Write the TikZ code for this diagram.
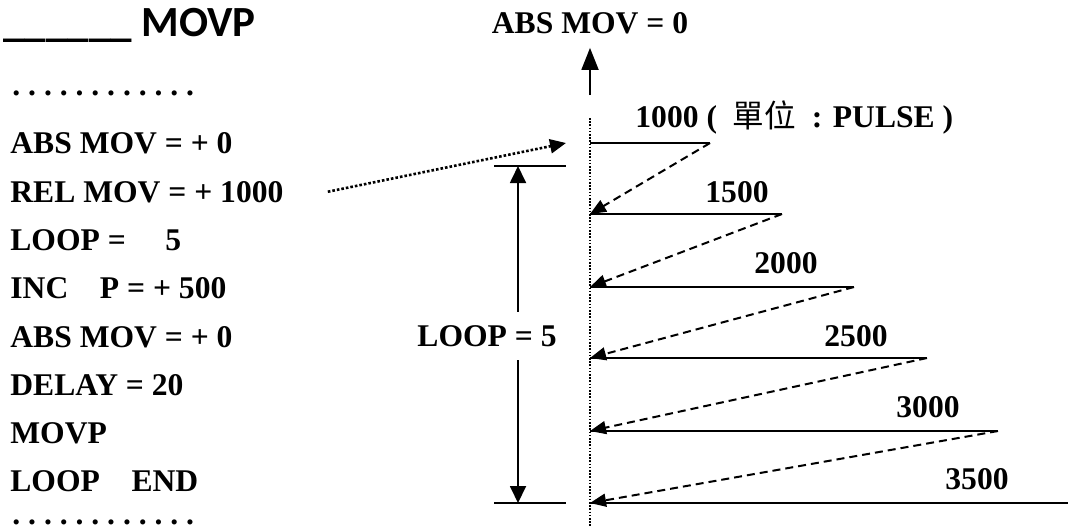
\documentclass[tikz,border=0pt]{standalone}
\usepackage{fontspec}
\setmainfont{Liberation Serif}
\newfontfamily\titlefont{Carlito}
\newfontfamily\cjk{Noto Sans CJK TC}
\usetikzlibrary{arrows.meta}
\tikzset{
  txt/.style={font=\fontsize{15.8}{18}\selectfont\bfseries,inner sep=0pt,anchor=base west},
  val/.style={txt,anchor=base},
  mv/.style={-,line width=1pt},
  back/.style={-{Triangle[length=8pt,width=6.5pt]},dash pattern=on 4pt off 2.5pt,line width=1pt},
  axis/.style={-,dash pattern=on 0.8pt off 0.8pt,line width=0.9pt},
  dim/.style={{Triangle[length=8.5pt,width=8pt]}-{Triangle[length=8.5pt,width=8pt]},line width=0.9pt},
  up/.style={-{Triangle[length=11pt,width=8.5pt]},line width=0.9pt},
  link/.style={-{Triangle[length=8pt,width=7pt]},dash pattern=on 1.3pt off 1pt,line width=1.3pt}
}
\begin{document}
\begin{tikzpicture}[x=0.5pt,y=-0.5pt]
  \useasboundingbox (0,0) rectangle (1068,527);
  % program listing
  \node[font=\fontsize{21.5}{24}\titlefont\bfseries,inner sep=0pt,anchor=base west] (title) at (3,36) {\_\_\_\_\_\_ MOVP};
  \node[txt,font=\fontsize{15.8}{18}\selectfont\bfseries\frenchspacing] (dotsa) at (12,95) {. . . . . . . . . . . .};
  \foreach \i/\y/\t in {1/153/{ABS MOV = + 0},2/202/{REL MOV = + 1000},3/250/{LOOP =\quad\ 5},
    4/298/{INC\quad P = + 500},5/347/{ABS MOV = + 0},6/395/{DELAY = 20},7/443/{MOVP},8/491/{LOOP\quad END}}
    {\node[txt] (cmd\i) at (10,\y) {\t};}
  \node[txt,font=\fontsize{15.8}{18}\selectfont\bfseries\frenchspacing] (dotsb) at (12,524) {. . . . . . . . . . . .};
  % axis
  \coordinate (axtop) at (590,118);
  \coordinate (axbot) at (590,527);
  \draw[axis] (axtop) -- (axbot);
  \node[val] (home) at (590,33) {ABS MOV = 0};
  \coordinate (upfoot) at (590,95);
  \draw[up,shorten >=7pt] (upfoot) -- (home.south);
  % moves
  \foreach \i/\y/\e in {1/143/710,2/214/782,3/287/854,4/358/927,5/431/998,6/503/1068}{
    \coordinate (s\i) at (590,\y); \coordinate (e\i) at (\e,\y);
    \draw[mv] (s\i) -- (e\i);}
  \foreach \i/\j in {1/2,2/3,3/4,4/5,5/6}{\draw[back] (e\i) -- (s\j);}
  \node[txt] (lab1) at (635,127) {1000 (\ \ {\cjk\mdseries 單位}\ \ : PULSE )};
  \node[val] (lab2) at (737,202) {1500};
  \node[val] (lab3) at (786,273) {2000};
  \node[val] (lab4) at (856,346) {2500};
  \node[val] (lab5) at (928,417) {3000};
  \node[val] (lab6) at (977,489) {3500};
  % loop span
  \coordinate (dtop) at (518,166); \coordinate (dbot) at (518,503);
  \coordinate (ta) at (494,166); \coordinate (tb) at (566,166);
  \coordinate (ba) at (494,503); \coordinate (bb) at (566,503);
  \draw[mv] (ta) -- (tb);
  \draw[mv] (ba) -- (bb);
  \draw[dim] (dbot) -- (dtop);
  \node[txt,anchor=center,fill=white,minimum height=24pt] (loops) at (487,336) {LOOP = 5};
  \draw[link] ([xshift=22pt]cmd2.east) -- ([xshift=-12pt]s1);
\end{tikzpicture}
\end{document}
